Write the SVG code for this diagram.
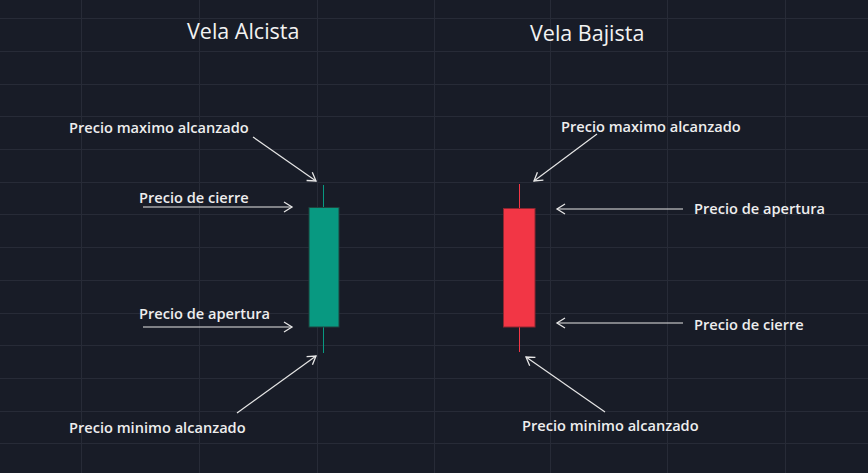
<svg xmlns="http://www.w3.org/2000/svg" width="868" height="473" viewBox="0 0 868 473">
<style>
.grid line{stroke:#272b37;stroke-width:1}
.lbl{font-family:"Open Sans","Noto Sans",sans-serif;font-size:14.6px;font-weight:600;fill:#eeeeee}
.title{font-family:"Open Sans","Noto Sans",sans-serif;font-size:21.5px;font-weight:500;fill:#f2f2f2}
.conn line{stroke:#e6e6e6;stroke-width:1.2;marker-end:url(#ah)}
</style>
<defs>
<marker id="ah" markerUnits="userSpaceOnUse" markerWidth="14" markerHeight="14" refX="9" refY="6" orient="auto">
<path d="M1,1 L9,6 L1,11" fill="none" stroke="#e6e6e6" stroke-width="1.3"/>
</marker>
</defs>
<rect width="868" height="473" fill="#181c27"/>
<g class="grid">
<line x1="81.5" y1="0" x2="81.5" y2="473"/>
<line x1="199.5" y1="0" x2="199.5" y2="473"/>
<line x1="317.5" y1="0" x2="317.5" y2="473"/>
<line x1="434.5" y1="0" x2="434.5" y2="473"/>
<line x1="550.5" y1="0" x2="550.5" y2="473"/>
<line x1="667.5" y1="0" x2="667.5" y2="473"/>
<line x1="785.5" y1="0" x2="785.5" y2="473"/>
<line x1="0" y1="18.5" x2="868" y2="18.5"/>
<line x1="0" y1="51.5" x2="868" y2="51.5"/>
<line x1="0" y1="84.5" x2="868" y2="84.5"/>
<line x1="0" y1="116.5" x2="868" y2="116.5"/>
<line x1="0" y1="149.5" x2="868" y2="149.5"/>
<line x1="0" y1="182.5" x2="868" y2="182.5"/>
<line x1="0" y1="214.5" x2="868" y2="214.5"/>
<line x1="0" y1="247.5" x2="868" y2="247.5"/>
<line x1="0" y1="280.5" x2="868" y2="280.5"/>
<line x1="0" y1="313.5" x2="868" y2="313.5"/>
<line x1="0" y1="345.5" x2="868" y2="345.5"/>
<line x1="0" y1="378.5" x2="868" y2="378.5"/>
<line x1="0" y1="411.5" x2="868" y2="411.5"/>
<line x1="0" y1="443.5" x2="868" y2="443.5"/>
</g>
<g id="title-alcista"><text class="title" x="187" y="39">Vela Alcista</text></g>
<g id="title-bajista"><text class="title" x="530" y="41">Vela Bajista</text></g>
<g id="candle-green">
<line x1="323.5" y1="185" x2="323.5" y2="353" stroke="#089981" stroke-width="1"/>
<rect x="309" y="207.5" width="30" height="119.5" fill="#089981" stroke="#1f433e" stroke-width="1"/>
</g>
<g id="candle-red">
<line x1="519.5" y1="184" x2="519.5" y2="352" stroke="#f23645" stroke-width="1"/>
<rect x="503.5" y="208.5" width="31.5" height="118.5" fill="#f23645" stroke="#8c2630" stroke-width="1"/>
</g>
<g id="lbl-l-max"><text class="lbl" x="69" y="133">Precio maximo alcanzado</text></g>
<g id="lbl-l-cierre"><text class="lbl" x="139" y="203">Precio de cierre</text></g>
<g id="lbl-l-apertura"><text class="lbl" x="139" y="319">Precio de apertura</text></g>
<g id="lbl-l-min"><text class="lbl" x="69" y="433">Precio minimo alcanzado</text></g>
<g id="lbl-r-max"><text class="lbl" x="561" y="132">Precio maximo alcanzado</text></g>
<g id="lbl-r-apertura"><text class="lbl" x="694" y="214">Precio de apertura</text></g>
<g id="lbl-r-cierre"><text class="lbl" x="694" y="330">Precio de cierre</text></g>
<g id="lbl-r-min"><text class="lbl" x="522" y="431">Precio minimo alcanzado</text></g>
<g class="conn" id="connectors">
<line x1="253" y1="137" x2="316" y2="181"/>
<line x1="143" y1="207" x2="292" y2="207"/>
<line x1="143" y1="327" x2="292" y2="327"/>
<line x1="237" y1="413" x2="316" y2="356"/>
<line x1="597" y1="134" x2="534" y2="181"/>
<line x1="683" y1="209" x2="557" y2="209"/>
<line x1="683" y1="323" x2="557" y2="323"/>
<line x1="605" y1="412" x2="526" y2="357"/>
</g>
</svg>
